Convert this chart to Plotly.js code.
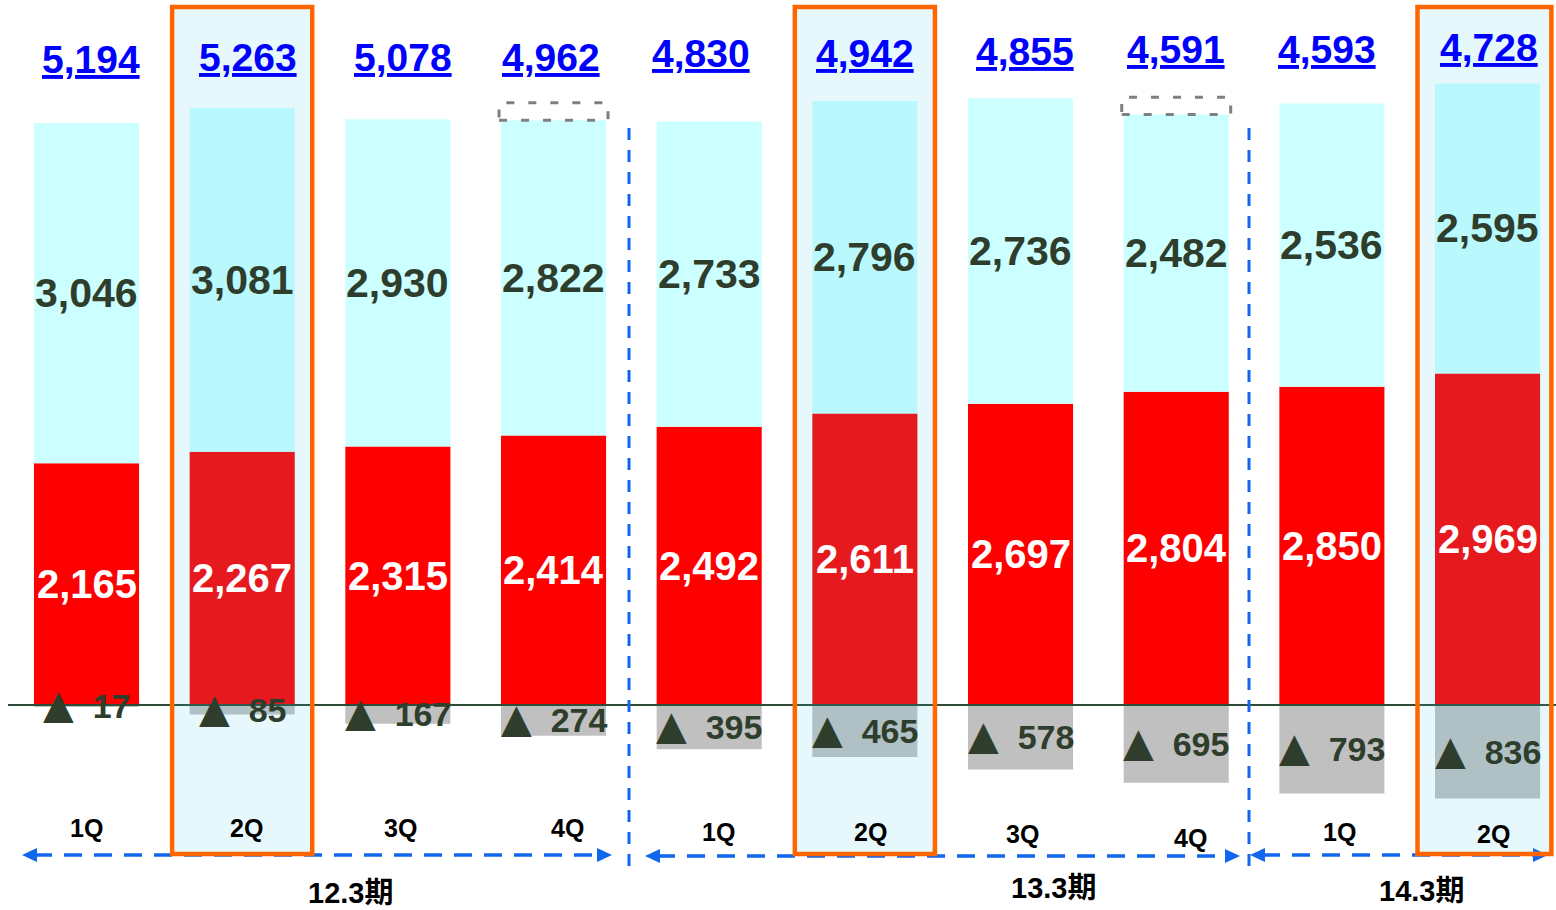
<!DOCTYPE html>
<html>
<head>
<meta charset="utf-8">
<script src="https://cdn.plot.ly/plotly-3.0.1.min.js"></script>
<style>html,body{margin:0;padding:0;background:#fff;}#chart{width:1556px;height:910px;}</style>
</head>
<body>
<div id="chart"></div>
<script>
// ---- data ----
const quarters = ['1Q','2Q','3Q','4Q','1Q','2Q','3Q','4Q','1Q','2Q'];
const periods = ['12.3期','13.3期','14.3期'];
const redValues = [2165,2267,2315,2414,2492,2611,2697,2804,2850,2969];
const cyanValues = [3046,3081,2930,2822,2733,2796,2736,2482,2536,2595];
const grayValues = [17,85,167,274,395,465,578,695,793,836];   // shown as negative (▲)
const highlighted = [1,5,9];
const dashedBoxBars = [3,7];

// ---- layout helpers ----
const W = 1556, H = 910;
const px = x => x / W;
const py = y => 1 - y / H;
const idx = quarters.map((_, i) => i);
const totals = idx.map(i => redValues[i] + cyanValues[i] - grayValues[i]);
const fmt = v => v.toLocaleString('en-US');

const FONT = '"Liberation Sans", Arial, "Noto Sans CJK JP", sans-serif';
const DARK = '#2E3D2C';
const BLUE = '#1166EE';

const totalLabelY = [60,57,58,58,53,53,51,49,49,47];
const totalShift = [4,6,5,-3,-8,0,4,0,-5,1];
const quarterLabelY = [828,828,828,828,832,832,834,838,832,834];
const quarterShift = [0,4,3,14,9,6,2,14,8,6];
const periodPos = [[350,893],[1053,888],[1421,891]];

const barW = 0.675;
const traces = [
  {type:'bar', x:idx, y:redValues, width:barW, marker:{color:'#FF0000', line:{width:0}}, hoverinfo:'skip'},
  {type:'bar', x:idx, y:cyanValues, width:barW, marker:{color:'#CCFFFF', line:{width:0}}, hoverinfo:'skip'},
  {type:'bar', x:idx, y:grayValues.map(v => -v), width:barW, marker:{color:'#C0C0C0', line:{width:0}}, hoverinfo:'skip'}
];

const ann = (o) => Object.assign({showarrow:false, xanchor:'center', yanchor:'middle'}, o);
const annotations = [];
idx.forEach(i => {
  annotations.push(ann({x:i, y:redValues[i]/2, xref:'x', yref:'y', text:'<b>'+fmt(redValues[i])+'</b>',
    font:{family:FONT, size:40, color:'#FFFFFF'}}));
  annotations.push(ann({x:i, y:redValues[i]+cyanValues[i]/2, xref:'x', yref:'y', text:'<b>'+fmt(cyanValues[i])+'</b>',
    font:{family:FONT, size:41, color:DARK}}));
  annotations.push(ann({x:i, y:-grayValues[i]/2, xref:'x', yref:'y', yshift:2,
    text:'<b><span style="font-family:DejaVu Sans;font-size:40px">▲</span>\u00A0\u00A0'+fmt(grayValues[i])+'</b>',
    font:{family:FONT, size:34, color:DARK}}));
  annotations.push(ann({x:i, y:py(totalLabelY[i]), xref:'x', yref:'paper', text:'<b><u>'+fmt(totals[i])+'</u></b>',
    xshift:totalShift[i], font:{family:FONT, size:39, color:'#0000FF'}}));
  annotations.push(ann({x:i, y:py(quarterLabelY[i]), xref:'x', yref:'paper', text:'<b>'+quarters[i]+'</b>',
    xshift:quarterShift[i], font:{family:FONT, size:25, color:'#000000'}}));
});
periods.forEach((p, k) => {
  annotations.push(ann({x:px(periodPos[k][0]), y:py(periodPos[k][1]), xref:'paper', yref:'paper', text:'<b>'+p+'</b>',
    font:{family:FONT, size:29, color:'#000000'}}));
});

const shapes = [];
// zero line
shapes.push({type:'line', xref:'paper', yref:'y', x0:px(8), x1:1, y0:0, y1:0, layer:'above', line:{color:'#2F4A35', width:2}});
// dashed boxes above 4Q bars
dashedBoxBars.forEach(i => {
  const top = redValues[i] + cyanValues[i];
  shapes.push({type:'rect', xref:'x', yref:'y', x0:i-0.35, x1:i+0.35, y0:top, y1:top+155, layer:'above',
    line:{color:'#808080', width:3, dash:'8px,14px'}, fillcolor:'rgba(0,0,0,0)'});
});
// vertical dashed separators
[629,1249].forEach(x => {
  shapes.push({type:'line', xref:'paper', yref:'paper', x0:px(x), x1:px(x), y0:py(128), y1:py(868), layer:'above',
    line:{color:BLUE, width:3, dash:'12px,10px'}});
});
// double-headed dashed arrows
const arrows = [[22,612,855],[645,1240,856],[1250,1548,855]];
arrows.forEach(([a,b,y]) => {
  shapes.push({type:'line', xref:'paper', yref:'paper', x0:px(a+12), x1:px(b-12), y0:py(y), y1:py(y), layer:'above',
    line:{color:BLUE, width:3.5, dash:'18px,12px'}});
  const tri = (tip, dir) => `M ${px(tip)} ${py(y)} L ${px(tip+dir*15)} ${py(y-7)} L ${px(tip+dir*15)} ${py(y+7)} Z`;
  shapes.push({type:'path', xref:'paper', yref:'paper', path:tri(a,1), layer:'above', fillcolor:BLUE, line:{width:0}});
  shapes.push({type:'path', xref:'paper', yref:'paper', path:tri(b,-1), layer:'above', fillcolor:BLUE, line:{width:0}});
});
// highlight frames around 2Q bars
highlighted.forEach(i => {
  shapes.push({type:'rect', xref:'x', yref:'paper', x0:i-0.45, x1:Math.min(i+0.45, 9.41), y0:py(854), y1:py(7), layer:'above',
    fillcolor:'rgba(62,201,232,0.13)', line:{color:'#FF6600', width:4.5}});
});

const layout = {
  width:W, height:H,
  margin:{l:0, r:0, t:0, b:0},
  paper_bgcolor:'#FFFFFF', plot_bgcolor:'#FFFFFF',
  barmode:'relative', showlegend:false,
  xaxis:{range:[-0.5557, 9.4397], visible:false, fixedrange:true},
  yaxis:{range:[-1835, 6312], visible:false, fixedrange:true},
  annotations:annotations, shapes:shapes
};
Plotly.newPlot('chart', traces, layout, {displayModeBar:false, staticPlot:true});
</script>
</body>
</html>
